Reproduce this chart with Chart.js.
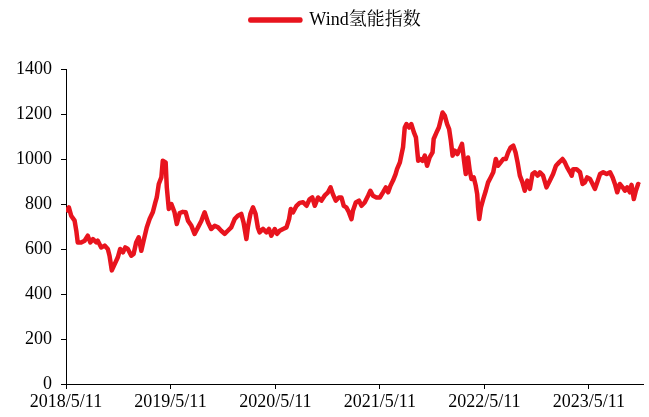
<!DOCTYPE html>
<html>
<head>
<meta charset="utf-8">
<script src="https://cdn.jsdelivr.net/npm/chart.js@4/dist/chart.umd.min.js"></script>
<style>
  html, body { margin: 0; padding: 0; background: #ffffff; }
  #wrap { width: 649px; height: 417px; }
</style>
</head>
<body>
<div id="wrap"><canvas id="c" width="649" height="417"></canvas></div>
<script>
// Days since 2018/5/11 for each reading
const dayOffsets = [
  0,10,18,30,36,41,53,65,76,85,
  94,106,111,123,135,146,152,160,170,181,
  189,199,207,216,228,236,245,254,263,271,
  282,292,303,312,317,324,333,338,348,352,
  359,368,379,387,397,408,418,426,438,449,
  461,473,484,496,507,519,531,542,554,565,
  577,589,600,612,620,630,635,644,653,662,
  670,676,688,700,709,717,729,737,746,758,
  770,779,785,793,805,816,828,840,851,860,
  869,880,892,903,915,924,932,942,953,962,
  970,979,988,997,1002,1012,1023,1032,1043,1055,
  1063,1072,1084,1096,1107,1117,1125,1133,1142,1151,
  1156,1166,1172,1177,1183,1189,1198,1206,1215,1222,
  1230,1238,1245,1253,1261,1270,1280,1284,1294,1302,
  1308,1315,1323,1331,1338,1344,1350,1358,1367,1375,
  1383,1390,1396,1404,1410,1416,1424,1431,1436,1439,
  1443,1449,1457,1466,1474,1483,1492,1501,1509,1518,
  1527,1536,1544,1553,1562,1570,1577,1585,1594,1602,
  1611,1620,1629,1637,1647,1655,1666,1678,1690,1701,
  1711,1722,1734,1742,1750,1760,1766,1771,1783,1795,
  1804,1812,1820,1830,1839,1847,1855,1865,1876,1888,
  1900,1909,1917,1925,1934,1944,1952,1960,1969,1975,
  1983,1990,1998,2004
];

// Wind氢能指数 values
const indexValues = [
  765,785,748,726,681,629,629,637,659,629,
  644,629,637,607,615,600,570,505,533,563,
  600,585,607,600,570,578,629,652,592,637,
  696,733,763,807,829,889,918,992,985,874,
  778,800,763,711,760,765,763,726,703,667,
  696,726,763,718,689,703,696,681,667,681,
  696,733,748,756,718,644,696,756,785,756,
  696,674,689,674,689,659,689,667,681,689,
  696,733,778,763,792,805,808,792,822,829,
  792,829,815,837,852,874,844,815,829,829,
  792,785,763,733,770,807,815,792,807,837,
  859,837,829,829,852,874,852,881,904,933,
  955,985,1022,1052,1140,1155,1140,1155,1118,1096,
  992,1000,992,1015,970,1007,1029,1089,1118,1140,
  1170,1207,1192,1155,1133,1081,1015,1037,1022,1044,
  1067,992,933,1007,948,911,918,881,844,785,
  733,785,822,859,896,918,941,1000,970,985,
  1000,1000,1029,1052,1059,1029,985,926,896,859,
  904,867,933,941,926,941,926,874,904,933,
  970,985,1000,985,963,941,926,955,955,941,
  889,896,918,911,889,867,896,933,941,933,
  941,918,889,852,889,874,859,874,852,885,
  822,859,889,885
];

const seriesName = 'Wind氢能指数';
const tickDays = [0, 365, 731, 1096, 1461, 1826];
const tickLabels = ['2018/5/11', '2019/5/11', '2020/5/11', '2021/5/11', '2022/5/11', '2023/5/11'];
const yTickValues = [0, 200, 400, 600, 800, 1000, 1200, 1400];

const points = dayOffsets.map((d, i) => ({ x: d, y: indexValues[i] }));
const RED = '#E8141E';
const FONT = "'Times New Roman', 'Liberation Serif', 'Noto Serif CJK SC', 'Noto Sans CJK SC', serif";

const legendTweak = {
  id: 'legendTweak',
  beforeInit(chart) {
    const lg = chart.legend;
    if (lg && !lg._patched) {
      const orig = lg.fit;
      lg.fit = function () { orig.call(this); this.height += 30; };
      lg._patched = true;
    }
  },
  afterLayout(chart) {
    if (chart.legend) { chart.legend.left += 28; }
  }
};

new Chart(document.getElementById('c'), {
  type: 'line',
  data: {
    datasets: [{
      label: seriesName,
      data: points,
      borderColor: RED,
      backgroundColor: RED,
      borderWidth: 4.5,
      pointRadius: 0,
      tension: 0,
      borderJoinStyle: 'round',
      borderCapStyle: 'butt',
      fill: false
    }]
  },
  options: {
    responsive: false,
    animation: false,
    devicePixelRatio: 1,
    layout: { padding: { top: 1, left: 0, right: 6, bottom: 2 } },
    plugins: {
      legend: {
        display: true,
        position: 'top',
        labels: {
          boxWidth: 50,
          boxHeight: 1,
          color: '#000',
          padding: 10,
          font: { family: FONT, size: 18 }
        }
      },
      tooltip: { enabled: false }
    },
    scales: {
      x: {
        type: 'linear',
        min: 0,
        max: 2015,
        afterBuildTicks(scale) { scale.ticks = tickDays.map(v => ({ value: v })); },
        ticks: {
          color: '#000',
          padding: 4,
          maxRotation: 0,
          autoSkip: false,
          font: { family: FONT, size: 18, lineHeight: 1.0 },
          callback(value) { const i = tickDays.indexOf(value); return i >= 0 ? tickLabels[i] : ''; }
        },
        grid: { drawOnChartArea: false, drawTicks: true, tickLength: 5, tickColor: '#000' },
        border: { display: true, color: '#000', width: 1 }
      },
      y: {
        min: 0,
        max: 1400,
        afterBuildTicks(scale) { scale.ticks = yTickValues.map(v => ({ value: v })); },
        afterFit(scale) { scale.width = 66; },
        ticks: {
          color: '#000',
          padding: 9,
          font: { family: FONT, size: 18 },
          callback(value) { return String(value); }
        },
        grid: { drawOnChartArea: false, drawTicks: true, tickLength: 5, tickColor: '#000' },
        border: { display: true, color: '#000', width: 1 }
      }
    }
  },
  plugins: [legendTweak]
});
</script>
</body>
</html>
